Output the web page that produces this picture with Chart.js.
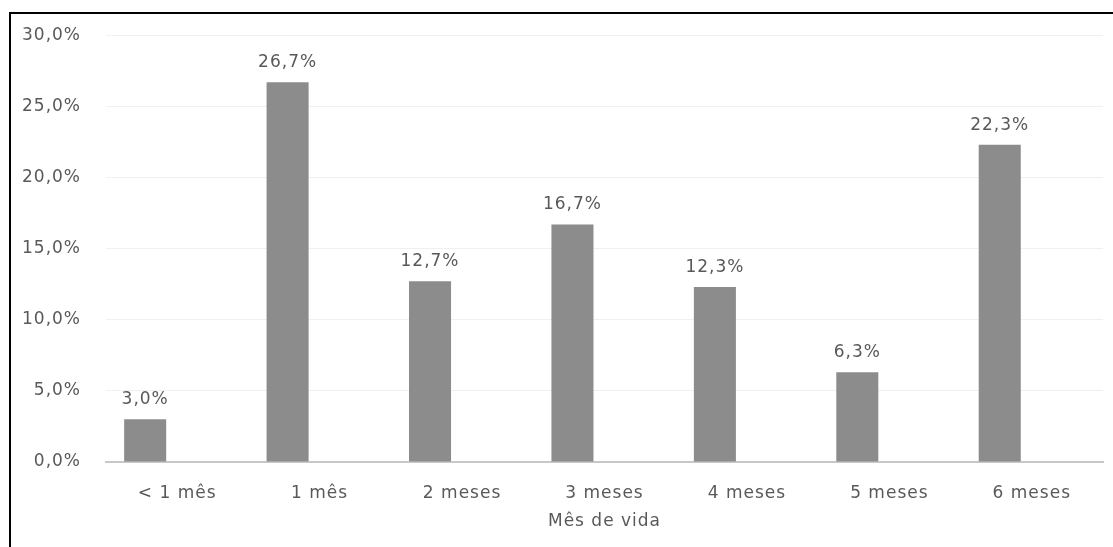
<!DOCTYPE html>
<html>
<head>
<meta charset="utf-8">
<script src="https://cdn.jsdelivr.net/npm/chart.js@4/dist/chart.umd.min.js"></script>
<style>
  html, body { margin: 0; padding: 0; background: #fff; }
  .frame { position: absolute; left: 9px; top: 12px; width: 1110px; height: 540px;
           border-left: 2px solid #000; border-top: 2px solid #000; pointer-events: none; }
  canvas { position: absolute; left: 0; top: 0; }
</style>
</head>
<body>
<canvas id="chart" width="1113" height="547"></canvas>
<div class="frame"></div>
<script>
const categories = ['< 1 mês', '1 mês', '2 meses', '3 meses', '4 meses', '5 meses', '6 meses'];
const percentValues = [3.0, 26.7, 12.7, 16.7, 12.3, 6.3, 22.3];
const emptySeries = [null, null, null, null, null, null, null];
const yTickMax = 30;
const yTickStep = 5;

const fmtPct = v => v.toFixed(1).replace('.', ',') + '%';
const textColor = '#595959';
const fontFamily = '"DejaVu Sans", sans-serif';

// o texto original é mais espaçado; o canvas perde o estado ao redimensionar
const wideText = {
    id: 'wideText',
    beforeUpdate(chart) { chart.ctx.letterSpacing = '1px'; },
    beforeDraw(chart) { chart.ctx.letterSpacing = '1px'; }
};

// rótulos de dados acima das barras
const barLabels = {
    id: 'barLabels',
    afterDatasetsDraw(chart) {
        const ctx = chart.ctx;
        const meta = chart.getDatasetMeta(0);
        ctx.save();
        ctx.font = '17px ' + fontFamily;
        ctx.fillStyle = textColor;
        ctx.textAlign = 'center';
        ctx.textBaseline = 'alphabetic';
        meta.data.forEach((bar, i) => {
            ctx.fillText(fmtPct(percentValues[i]), bar.x, bar.y - 15);
        });
        ctx.restore();
    }
};

new Chart(document.getElementById('chart').getContext('2d'), {
    type: 'bar',
    data: {
        labels: categories,
        datasets: [
            { label: 'Série 1', data: percentValues, backgroundColor: '#8c8c8c' },
            { label: 'Série 2', data: emptySeries, backgroundColor: '#8c8c8c' }
        ]
    },
    options: {
        responsive: false,
        animation: false,
        categoryPercentage: 0.9,
        barPercentage: 0.656,
        layout: { padding: { top: 33, right: 10, bottom: 0, left: 0 } },
        plugins: {
            legend: { display: false },
            tooltip: { enabled: false }
        },
        scales: {
            x: {
                grid: { display: false },
                border: { color: '#c8c8c8', width: 2 },
                ticks: { color: textColor, font: { family: fontFamily, size: 17 }, padding: 13 },
                title: {
                    display: true,
                    text: 'Mês de vida',
                    color: textColor,
                    font: { family: fontFamily, size: 17 },
                    padding: { top: 0, bottom: 15 }
                },
                afterFit: s => { s.height = 85; }
            },
            y: {
                min: 0,
                max: yTickMax,
                grid: { color: '#f0f0f0', drawTicks: false },
                border: { display: false },
                ticks: {
                    stepSize: yTickStep,
                    color: textColor,
                    font: { family: fontFamily, size: 17 },
                    padding: 25,
                    callback: v => fmtPct(v)
                },
                afterFit: s => { s.width = 106; }
            }
        }
    },
    plugins: [wideText, barLabels]
});
</script>
</body>
</html>
